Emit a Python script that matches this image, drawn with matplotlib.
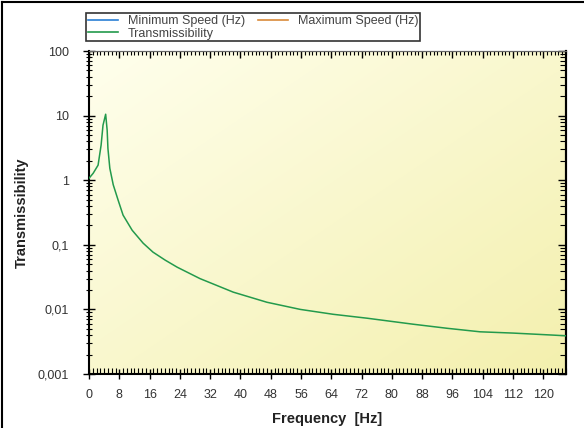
import numpy as np
import matplotlib
matplotlib.use("Agg")
import matplotlib.pyplot as plt
from matplotlib.ticker import FixedLocator, FuncFormatter, MultipleLocator, LogLocator, NullFormatter
from matplotlib.lines import Line2D

plt.rcParams['font.family'] = ['Liberation Sans', 'DejaVu Sans']

# Data
freq = [0, 1.1, 2.4, 3.2, 3.7, 4.4, 4.8, 5.0, 5.5, 6.4, 7.7, 9.0, 11.4, 14.3, 16.9,
        20.1, 23.3, 29.3, 38.1, 47.0, 55.8, 64.5, 73.5, 85.6, 94.6, 103.3, 112.0, 122.6, 126.0]
trans = [1.07, 1.28, 1.71, 3.5, 7.1, 10.5, 5.9, 3.1, 1.53, 0.85, 0.49, 0.288, 0.168, 0.106, 0.077,
         0.058, 0.045, 0.030, 0.0185, 0.0129, 0.0100, 0.0084, 0.0073, 0.0059, 0.0051, 0.0045, 0.0043, 0.0040, 0.0039]
x_ticks = list(range(0, 121, 8))
y_ticks = [0.001, 0.01, 0.1, 1, 10, 100]
y_tick_labels = ["0,001", "0,01", "0,1", "1", "10", "100"]
series_labels = ["Minimum Speed (Hz)", "Maximum Speed (Hz)", "Transmissibility"]
series_colors = ["#2a7fd4", "#d98a3a", "#239a4c"]

fig = plt.figure(figsize=(5.84, 4.28), dpi=100)
fig.patch.set_facecolor("white")
ax = fig.add_axes([89/584, 1-374/428, (566-89)/584, (374-51)/428])

# gradient background
n = 200
gx, gy = np.meshgrid(np.linspace(0, 1, n), np.linspace(0, 1, n))
g = np.clip((gx + gy) / 2, 0, 1)
c0 = np.array([1.0, 1.0, 0.93])
c1 = np.array([0.955, 0.94, 0.68])
img = c0[None, None, :] * (1 - g[..., None]) + c1[None, None, :] * g[..., None]
ax.imshow(img, extent=[0, 1, 0, 1], transform=ax.transAxes, aspect='auto', zorder=0)

ax.plot(freq, trans, color=series_colors[2], lw=1.1, zorder=3)
ax.set_yscale('log')
ax.set_xlim(0, 126)
ax.set_ylim(0.001, 100)

ax.xaxis.set_major_locator(FixedLocator(x_ticks))
ax.xaxis.set_minor_locator(MultipleLocator(1))
ax.yaxis.set_major_locator(FixedLocator(y_ticks))
ax.yaxis.set_major_formatter(FuncFormatter(lambda v, p: y_tick_labels[y_ticks.index(v)] if v in y_ticks else ""))
ax.yaxis.set_minor_locator(LogLocator(base=10, subs=np.arange(2, 10), numticks=20))
ax.yaxis.set_minor_formatter(NullFormatter())

ax.tick_params(axis='both', which='major', labelsize=9, colors='black', labelcolor='#333333', width=1.0)
ax.tick_params(axis='x', which='major', direction='inout', length=7, pad=7)
ax.tick_params(axis='x', which='minor', direction='in', length=4, width=0.8)
ax.tick_params(axis='y', which='major', direction='inout', length=9, pad=10)
ax.tick_params(axis='y', which='minor', direction='inout', length=5, width=0.8)

# top and right inward ticks
secx = ax.secondary_xaxis('top')
secx.xaxis.set_major_locator(FixedLocator(x_ticks))
secx.xaxis.set_minor_locator(MultipleLocator(1))
secx.tick_params(which='major', direction='in', length=5, width=1.0, labeltop=False)
secx.tick_params(which='minor', direction='in', length=3, width=0.8)
secx.spines['top'].set_linewidth(0.8)
secx.spines['top'].set_color('#666666')

secy = ax.secondary_yaxis('right')
secy.yaxis.set_major_locator(FixedLocator(y_ticks))
secy.yaxis.set_minor_locator(LogLocator(base=10, subs=np.arange(2, 10), numticks=20))
secy.yaxis.set_minor_formatter(NullFormatter())
secy.tick_params(which='major', direction='in', length=6, width=1.0, labelright=False)
secy.tick_params(which='minor', direction='in', length=4, width=0.8)
secy.spines['right'].set_linewidth(1.5)

for s in ['left', 'bottom', 'right']:
    ax.spines[s].set_linewidth(1.5)
    ax.spines[s].set_color('black')
ax.spines['top'].set_linewidth(0.8)
ax.spines['top'].set_color('#666666')

ax.set_xlabel("Frequency  [Hz]", fontsize=10.5, fontweight='bold', color='#222222', labelpad=8)
ax.set_ylabel("Transmissibility", fontsize=10.5, fontweight='bold', color='#222222', labelpad=6)

handles = [Line2D([], [], color=c, lw=1.2) for c in series_colors]
order = [0, 2, 1]
leg = fig.legend([handles[i] for i in order], [series_labels[i] for i in order],
                 loc='upper left', bbox_to_anchor=(86/584, 1-13/428),
                 ncol=2, fontsize=9, frameon=True, fancybox=False, borderpad=0.15,
                 handlelength=2.4, handletextpad=0.8, columnspacing=1.0, labelspacing=0.05,
                 borderaxespad=0)
leg.get_frame().set_edgecolor('black')
leg.get_frame().set_linewidth(1.2)
for t in leg.get_texts():
    t.set_color('#444444')

# figure border (left and top)
fig.add_artist(Line2D([2/584, 2/584], [0, 1-2/428], transform=fig.transFigure, color='black', lw=1.5))
fig.add_artist(Line2D([2/584, 1], [1-2/428, 1-2/428], transform=fig.transFigure, color='black', lw=1.5))

fig.savefig("out.png", dpi=100)
